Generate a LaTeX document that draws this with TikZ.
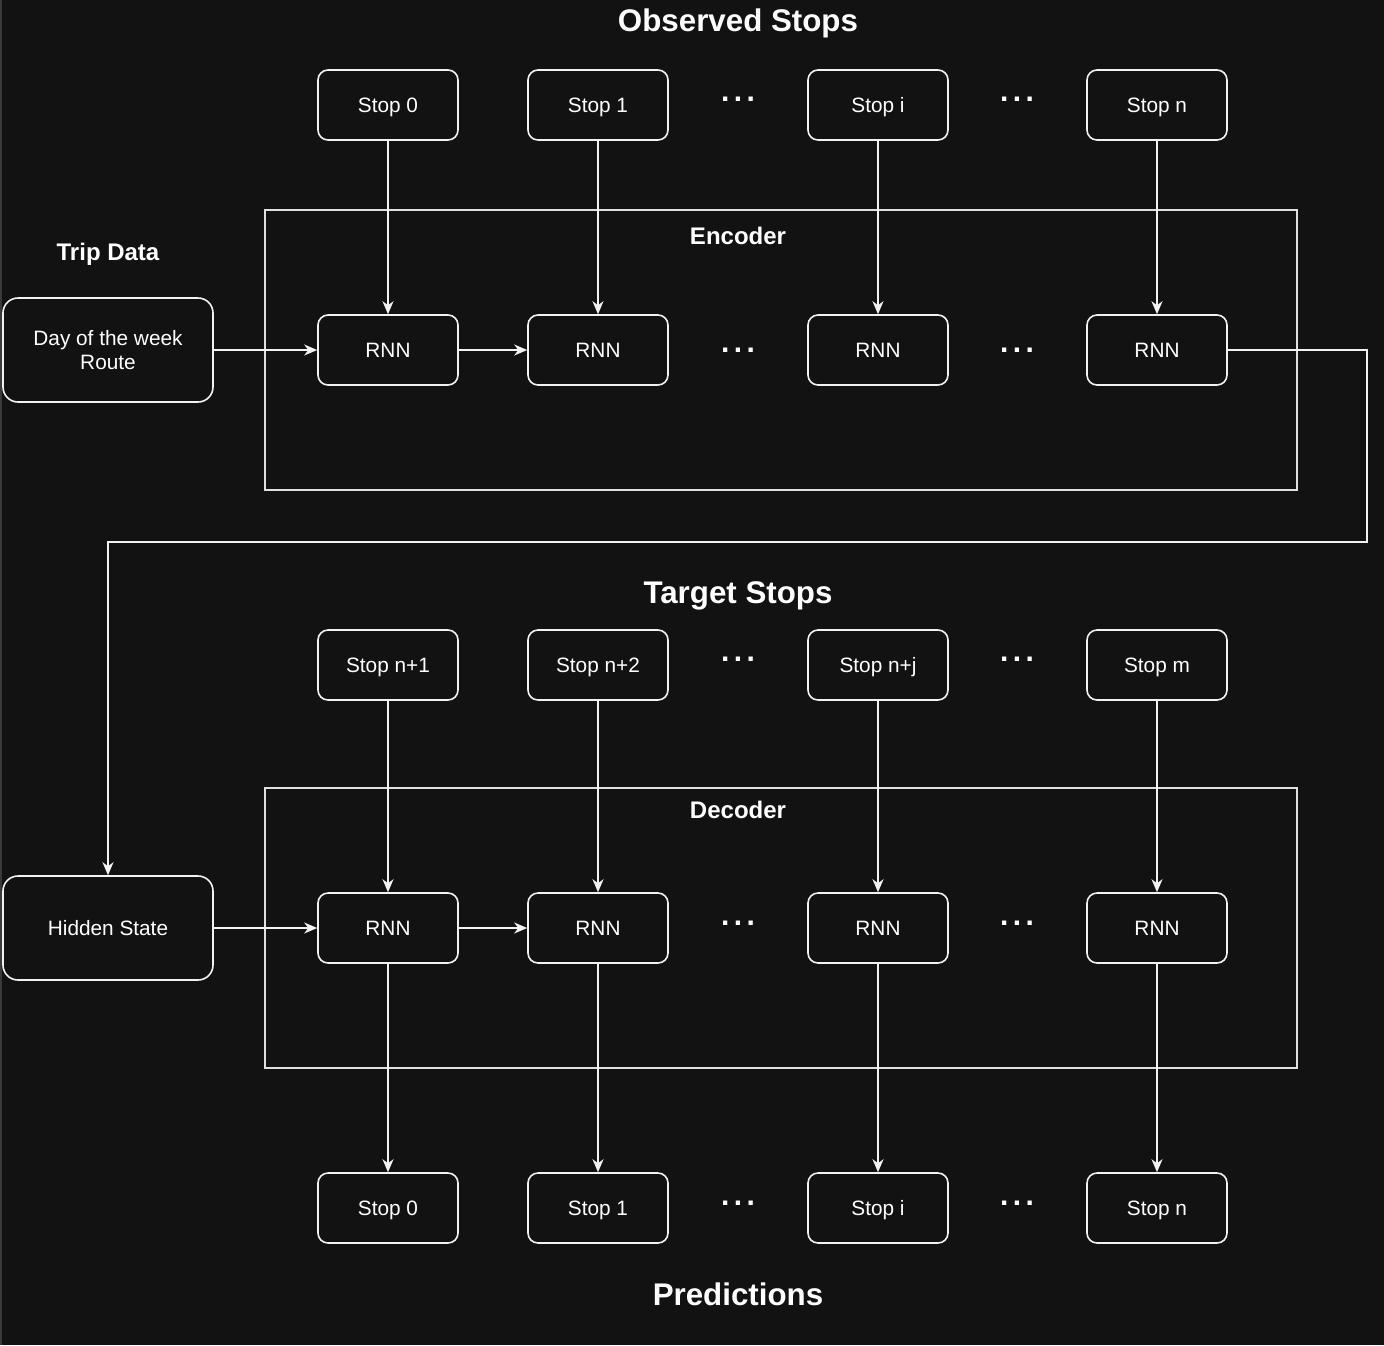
\documentclass[tikz,border=0pt]{standalone}
\usepackage{fontspec}
\setmainfont{Liberation Sans}
\usetikzlibrary{arrows.meta}
\definecolor{bg}{HTML}{121212}
\definecolor{edgegray}{HTML}{3A3A3A}
\definecolor{fg}{HTML}{F2F2F2}
\definecolor{frame}{HTML}{E0E0E0}
\newcommand\fsz[1]{\fontsize{#1pt}{1.2\dimexpr#1pt\relax}\selectfont}
\newcommand\boxfont{\fontsize{20.8pt}{24pt}\selectfont}
\tikzset{
  box/.style={draw=fg, line width=1.6pt, rounded corners=10pt, minimum width=140pt,
    minimum height=70pt, inner sep=0pt, text=white, font=\boxfont,
    text height=15pt, text depth=0pt},
  bigbox/.style={draw=fg, line width=1.6pt, rounded corners=15pt, minimum width=210pt,
    minimum height=104pt, inner sep=0pt, text=white, font=\boxfont, align=center},
  container/.style={draw=frame, line width=1.5pt, minimum width=1032pt, minimum height=280pt, inner sep=0pt},
  title/.style={text=white, font=\fsz{31.3}\bfseries, text height=22.4pt, text depth=0pt, inner sep=0pt},
  subtitle/.style={text=white, font=\fsz{24}\bfseries, text height=17.2pt, text depth=0pt, inner sep=0pt},
  ellip/.style={text=white, font=\fsz{30}\bfseries, anchor=base, inner sep=0pt},
  conn/.style={draw=fg, line width=1.5pt, -{Stealth[length=13pt, width=11pt, inset=4pt]}},
}
\newcommand\dotsrow{.\kern4.5pt.\kern4.5pt.}
\begin{document}
\begin{tikzpicture}[x=1pt, y=-1pt]
  % canvas
  \fill[bg] (0,0) rectangle (1384,1345);
  \fill[edgegray] (0,0) rectangle (2,1345);
  \useasboundingbox (0,0) rectangle (1384,1345);

  % ---------- encoder ----------
  \node[container] (enc) at (781,350) {};
  \node[subtitle] (enclbl) at (738,236) {Encoder};
  \node[title] (obs) at (738,20.5) {Observed Stops};

  \node[box] (o0) at (388,105) {Stop 0};
  \node[box] (o1) at (598,105) {Stop 1};
  \node[box] (oi) at (878,105) {Stop i};
  \node[box] (on) at (1157,105) {Stop n};
  \node[ellip] (od1) at (738,101) {\dotsrow};
  \node[ellip] (od2) at (1017,101) {\dotsrow};

  \node[box] (e0) at (388,350) {RNN};
  \node[box] (e1) at (598,350) {RNN};
  \node[box] (ei) at (878,350) {RNN};
  \node[box] (en) at (1157,350) {RNN};
  \node[ellip] (ed1) at (738,352) {\dotsrow};
  \node[ellip] (ed2) at (1017,352) {\dotsrow};

  \node[subtitle] (triplbl) at (108,252) {Trip Data};
  \node[bigbox] (trip) at (108,350) {Day of the week\\Route};

  \draw[conn] (o0) -- (e0);
  \draw[conn] (o1) -- (e1);
  \draw[conn] (oi) -- (ei);
  \draw[conn] (on) -- (en);
  \draw[conn] (trip) -- (e0);
  \draw[conn] (e0) -- (e1);

  % hand-over of the final encoder state to the decoder
  \coordinate (bend) at (1367,542);
  \node[bigbox, text height=15pt, text depth=0pt] (hid) at (108,928) {Hidden State};
  \draw[conn] (en.east) -| (bend) -| (hid.north);

  % ---------- decoder ----------
  \node[title] (tgt) at (738,592) {Target Stops};
  \node[container] (dec) at (781,928) {};
  \node[subtitle] (declbl) at (738,810) {Decoder};

  \node[box] (t1) at (388,665) {Stop n+1};
  \node[box] (t2) at (598,665) {Stop n+2};
  \node[box] (tj) at (878,665) {Stop n+j};
  \node[box] (tm) at (1157,665) {Stop m};
  \node[ellip] (td1) at (738,661) {\dotsrow};
  \node[ellip] (td2) at (1017,661) {\dotsrow};

  \node[box] (d0) at (388,928) {RNN};
  \node[box] (d1) at (598,928) {RNN};
  \node[box] (di) at (878,928) {RNN};
  \node[box] (dn) at (1157,928) {RNN};
  \node[ellip] (dd1) at (738,925) {\dotsrow};
  \node[ellip] (dd2) at (1017,925) {\dotsrow};

  \node[box] (p0) at (388,1208) {Stop 0};
  \node[box] (p1) at (598,1208) {Stop 1};
  \node[box] (pi) at (878,1208) {Stop i};
  \node[box] (pn) at (1157,1208) {Stop n};
  \node[ellip] (pd1) at (738,1205) {\dotsrow};
  \node[ellip] (pd2) at (1017,1205) {\dotsrow};
  \node[title] (pred) at (738,1294) {Predictions};

  \draw[conn] (t1) -- (d0);
  \draw[conn] (t2) -- (d1);
  \draw[conn] (tj) -- (di);
  \draw[conn] (tm) -- (dn);
  \draw[conn] (hid) -- (d0);
  \draw[conn] (d0) -- (d1);
  \draw[conn] (d0) -- (p0);
  \draw[conn] (d1) -- (p1);
  \draw[conn] (di) -- (pi);
  \draw[conn] (dn) -- (pn);
\end{tikzpicture}
\end{document}
